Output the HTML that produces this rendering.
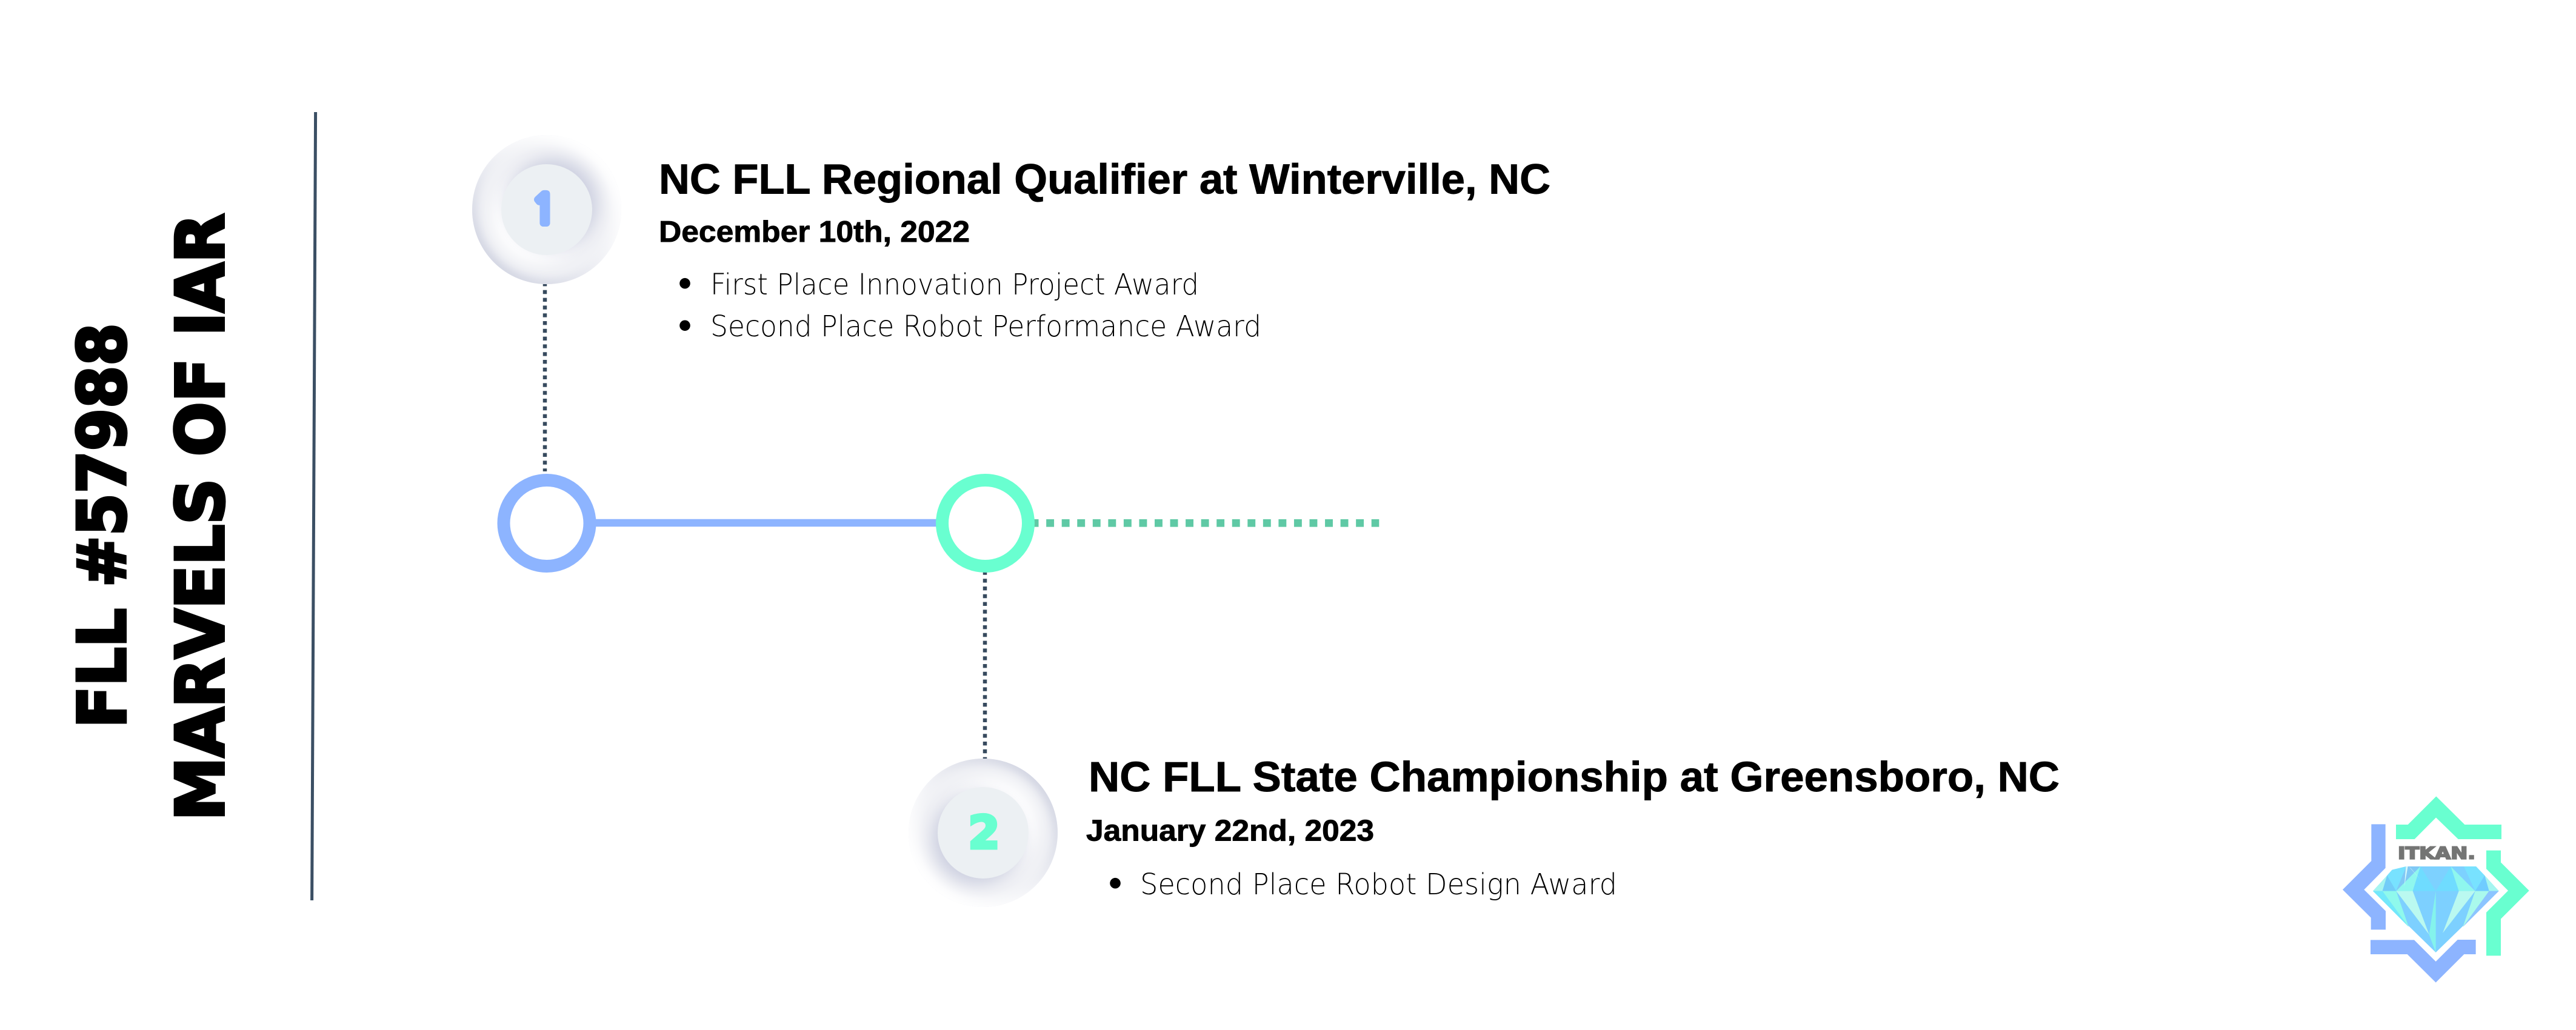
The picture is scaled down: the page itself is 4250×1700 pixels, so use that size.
<!DOCTYPE html>
<html><head><meta charset="utf-8"><style>
html,body{margin:0;padding:0;background:#fff;width:4250px;height:1700px;overflow:hidden}
svg{position:absolute;left:0;top:0}
.o{position:absolute;width:245.4px;height:245.4px;border-radius:50%;background:#f0f1f5;box-sizing:border-box}
.i{position:absolute;left:47.4px;top:47.4px;width:150.6px;height:150.6px;border-radius:50%;background:#ecf0f3}
.o1{left:779.3px;top:223.3px;box-shadow:inset -12px 12px 22px #fff,inset 6px -6px 16px #d0d3e1}
.o1 .i{box-shadow:9px -9px 24px #cdd0e0,-12px 12px 24px #fff}
.o2{left:1499.3px;top:1251.6px;box-shadow:inset 12px -12px 22px #fff,inset -6px 6px 16px #d0d3e1}
.o2 .i{box-shadow:-9px 9px 24px #cdd0e0,12px -12px 24px #fff}
.b{font-family:"Liberation Sans",sans-serif;font-weight:700;fill:#000;stroke:#000;stroke-width:.9}
.l{font-family:"DejaVu Sans",sans-serif;font-weight:200;font-size:48px;fill:#000}
.t{font-family:"DejaVu Sans",sans-serif;font-weight:700;font-size:109px;fill:#000;stroke:#000;stroke-width:5}
</style></head><body>
<svg width="4250" height="1700" viewBox="0 0 4250 1700">
<line x1="520.6" y1="185" x2="514.6" y2="1486" stroke="#3b4f64" stroke-width="5"/>
<text class="t" transform="translate(206.5,1201.5) rotate(-90)" textLength="668" lengthAdjust="spacingAndGlyphs">FLL #57988</text>
<text class="t" transform="translate(368.5,1354.5) rotate(-90)" textLength="1002" lengthAdjust="spacingAndGlyphs">MARVELS OF IAR</text>

<line x1="899" y1="466" x2="899" y2="778" stroke="#374a5e" stroke-width="6.5" stroke-dasharray="6.4 6.4"/>
<line x1="1625" y1="942.4" x2="1625" y2="1252" stroke="#374a5e" stroke-width="6.5" stroke-dasharray="6.4 6.4"/>
<line x1="1700.6" y1="863.3" x2="2275.3" y2="863.3" stroke="#5fc9a5" stroke-width="12.6" stroke-dasharray="12.9 12.65"/>
<line x1="975" y1="863" x2="1560" y2="863" stroke="#8db4ff" stroke-width="12.4"/>
<circle cx="902" cy="863.5" r="71" fill="#fff" stroke="#8db4ff" stroke-width="21"/>
<circle cx="1625.5" cy="863.5" r="71" fill="#fff" stroke="#69ffd0" stroke-width="21"/>

<text class="b" x="1087" y="319.3" font-size="70" textLength="1471" lengthAdjust="spacingAndGlyphs">NC FLL Regional Qualifier at Winterville, NC</text>
<text class="b" x="1087" y="399" font-size="49" textLength="513" lengthAdjust="spacingAndGlyphs">December 10th, 2022</text>
<circle cx="1130" cy="467.7" r="8.8"/><circle cx="1130" cy="537.3" r="8.8"/>
<text class="l" x="1172" y="486" textLength="806" lengthAdjust="spacingAndGlyphs">First Place Innovation Project Award</text>
<text class="l" x="1172" y="555" textLength="909" lengthAdjust="spacingAndGlyphs">Second Place Robot Performance Award</text>

<text class="b" x="1796" y="1306" font-size="70" textLength="1602" lengthAdjust="spacingAndGlyphs">NC FLL State Championship at Greensboro, NC</text>
<text class="b" x="1792" y="1387.7" font-size="49" textLength="475" lengthAdjust="spacingAndGlyphs">January 22nd, 2023</text>
<circle cx="1840" cy="1457.7" r="8.8"/>
<text class="l" x="1881" y="1476" textLength="787" lengthAdjust="spacingAndGlyphs">Second Place Robot Design Award</text>

<g transform="translate(3800,1280) scale(.33333)">
<polygon fill="#69ffd0" points="459,243 518,243 658,103 799,243 981,243 981,315 767,315 657,208 551,315 459,315"/>
<polygon fill="#69ffd0" points="906,371 978,371 978,430 1118,570 978,710 978,892 906,892 906,678 1014,570 906,462"/>
<polygon fill="#8db4ff" points="337,241 407,241 407,458 301,565 408,671 408,763 335,763 335,704 195,565 337,423"/>
<polygon fill="#8db4ff" points="333,814 549,814 656,921 764,813 854,813 854,885 796,885 656,1025 515,885 333,885"/>
<text x="468" y="413" font-family="'DejaVu Sans',sans-serif" font-weight="700" font-size="82" fill="#747574" stroke="#747574" stroke-width="6" textLength="384" lengthAdjust="spacingAndGlyphs">ITKAN.</text>
<polygon fill="#7dd0ff" points="345,572 415,495 440,467 510,450 855,450 898,495 968,572 656,876"/>
<polygon fill="#a5f5f0" points="345,572 415,495 392,572"/>
<polygon fill="#72ccf8" points="415,495 392,572 460,572"/>
<polygon fill="#78e2ff" points="415,495 440,467 510,450 460,572"/>
<polygon fill="#80c8f5" points="510,450 580,450 460,572"/>
<polygon fill="#8ff7ee" points="580,450 542,572 460,572"/>
<polygon fill="#6fdcff" points="580,450 656,572 542,572"/>
<polygon fill="#7dd1ff" points="580,450 730,450 656,572"/>
<polygon fill="#6fdcff" points="730,450 770,572 656,572"/>
<polygon fill="#8ff7ee" points="730,450 851,572 770,572"/>
<polygon fill="#7dd1ff" points="730,450 795,450 851,572"/>
<polygon fill="#78e2ff" points="795,450 855,450 898,495 851,572"/>
<polygon fill="#70ccff" points="898,495 920,572 851,572"/>
<polygon fill="#a5f5f0" points="898,495 968,572 920,572"/>
<polygon fill="#72e8fb" points="345,572 392,572 522,750"/>
<polygon fill="#8ff9ec" points="392,572 460,572 522,750"/>
<polygon fill="#baf9f0" points="460,572 542,572 623,787"/>
<polygon fill="#84f3ec" points="656,572 623,787 656,876"/>
<polygon fill="#baf9f0" points="770,572 851,572 690,780"/>
<polygon fill="#aaf9ec" points="851,572 920,572 790,750"/>
<polygon fill="#8cc5ff" points="920,572 968,572 790,750"/>
<polygon fill="#84f3ec" points="623,787 656,876 640,800"/>
<polygon fill="#d5f7fa" points="508,450 518,450 500,550"/>
<polygon fill="#d5f7fa" points="522,450 535,462 580,515"/>
</g>
</svg>
<div class="o o1"><div class="i"></div></div>
<div class="o o2"><div class="i"></div></div>
<svg width="4250" height="1700" viewBox="0 0 4250 1700">
<text x="897.5" y="369" text-anchor="middle" font-family="'NanumGothic',sans-serif" font-weight="700" font-size="66" fill="#8db4ff" stroke="#8db4ff" stroke-width="10" stroke-linejoin="miter">1</text>
<text x="1623.5" y="1400" text-anchor="middle" font-family="'DejaVu Sans',sans-serif" font-weight="700" font-size="75" fill="#69ffd0" stroke="#69ffd0" stroke-width="5">2</text>
</svg>
</body></html>
